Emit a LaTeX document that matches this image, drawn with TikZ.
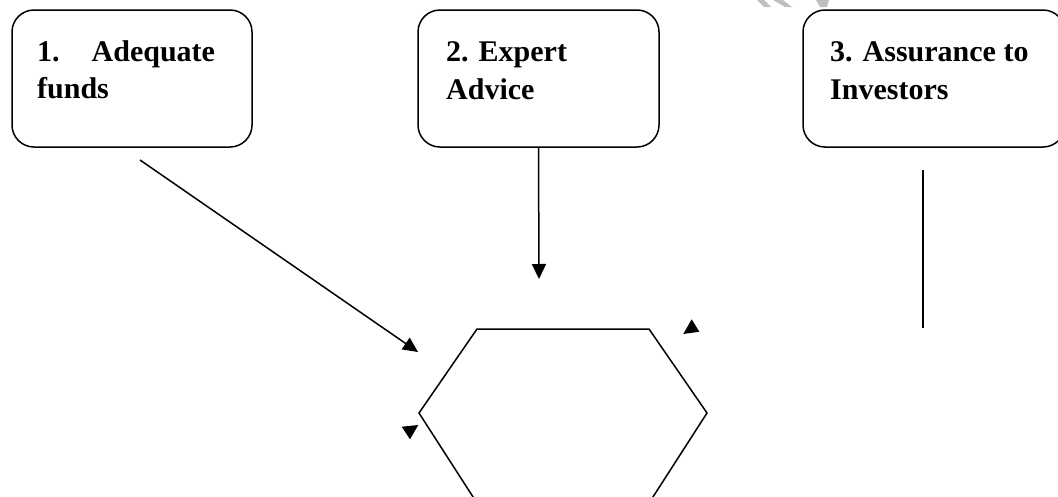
\documentclass[tikz,border=0pt]{standalone}
\usepackage{fontspec}
\setmainfont{Liberation Serif}
\usetikzlibrary{arrows.meta}
\begin{document}
\begin{tikzpicture}[x=1pt,y=-1pt,
  box/.style={draw,line width=1.5pt,rounded corners=22pt,inner sep=0pt},
  boxtext/.style={inner sep=0pt,align=left,anchor=base west,
    font=\bfseries\fontsize{30}{37.5}\selectfont},
  conn/.style={line width=1.5pt},
  arr/.style={conn,-{Triangle[length=15pt,width=14pt]}},
  headfill/.style={fill=black},
  wm/.style={fill=black!25,draw=none}]
\useasboundingbox (0,0) rectangle (1058,496);
\begin{scope}
\clip (0,0) rectangle (1058,496);

% faint watermark strokes along the top edge
\fill[wm] (757,0) -- (764,0) -- (771,7) -- (764,7) -- cycle;
\fill[wm] (773,0) -- (783,0) -- (792,7) -- (785,7) -- cycle;
\fill[wm] (816,0) -- (829,0) -- (827,7) -- (820,7) -- cycle;

% three rounded boxes
\node[box,minimum width=240pt,minimum height=137pt] (b1) at (132,78.5) {};
\node[box,minimum width=241pt,minimum height=137pt] (b2) at (538.5,78.5) {};
\node[box,minimum width=262pt,minimum height=137pt] (b3) at (934,78.5) {};

% labels (anchored on the baseline of their last line)
\node[boxtext] (t1) at (37,98.5) {1.\hspace{32pt}Adequate\\funds};
\node[boxtext] (t2) at (446,99) {2. Expert\\Advice};
\node[boxtext] (t3) at (830,99) {3. Assurance to\\Investors};

% hexagon, running off the lower edge
\coordinate (hex) at (563,413);
\draw[line width=1.5pt,line join=miter]
  (477,329) -- (649,329) -- (707,413) -- (651,500) -- (475,500) -- (419,413) -- cycle;

% connectors
\coordinate (s1) at (140,160);
\coordinate (e1) at (418,352);
\coordinate (e2) at (539,279);
\coordinate (s3) at (923,170);
\coordinate (e3) at (923,328);
\draw[arr] (s1) -- (e1);
\draw[arr] (b2.south) -- (e2);
\draw[conn] (s3) -- (e3);

% loose arrowheads
\fill[headfill] (691.7,319.3) -- (699.3,331.7) -- (683.3,334) -- cycle;
\fill[headfill] (401.7,426.7) -- (418.3,425) -- (410,439.3) -- cycle;
\end{scope}
\end{tikzpicture}
\end{document}
